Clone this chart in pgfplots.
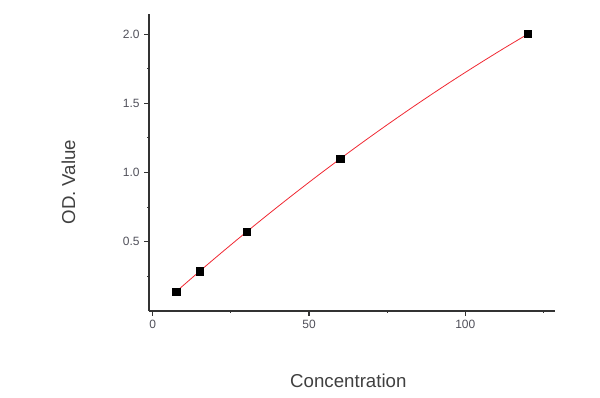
\documentclass[border=0pt]{standalone}
\usepackage{fontspec}
\setmainfont{Liberation Sans}
\usepackage{pgfplots}
\pgfplotsset{compat=1.18}
\definecolor{ticktxt}{RGB}{80,80,90}
\definecolor{labtxt}{RGB}{64,64,64}
\definecolor{fitred}{RGB}{240,40,50}
\begin{document}
\begin{tikzpicture}
\useasboundingbox (0pt,0pt) rectangle (450pt,298.5pt);
\begin{axis}[
  at={(111.75pt,65.25pt)}, anchor=south west,
  scale only axis, width=304.5pt, height=222.75pt,
  xmin=-1.2, xmax=128.7, ymin=0, ymax=2.145,
  axis x line=bottom, axis y line=left,
  axis line style={-, black!80, line width=0.9pt},
  tick align=outside,
  major tick length=3.5pt, minor tick length=1.5pt,
  tick style={black!80, line width=0.8pt},
  xtick={0,50,100}, minor xtick={25,75,125},
  ytick={0.5,1.0,1.5,2.0}, minor ytick={0.25,0.75,1.25,1.75},
  yticklabel style={/pgf/number format/fixed, /pgf/number format/fixed zerofill, /pgf/number format/precision=1},
  /pgf/number format/assume math mode=true,
  ticklabel style={font=\fontsize{9}{10}\selectfont, text=ticktxt},
  label style={font=\fontsize{14}{16}\selectfont, text=labtxt},
  xlabel={Concentration},
  ylabel={OD. Value},
  xlabel style={at={(rel axis cs:0.491,-0.256)}, anchor=base},
  ylabel style={at={(rel axis cs:-0.182,0.434)}, anchor=base},
  clip=false,
]
\addplot[only marks, mark=square*, mark size=2.7pt, mark options={fill=black, draw=black}] coordinates {
(7.5,0.14) (15,0.287) (30,0.571) (60,1.10) (120,2.00)
};
\addplot[smooth, fitred, line width=0.6pt, mark=none] coordinates {
(7.5,0.1400) (15,0.2870) (22.5,0.4307) (30,0.5711) (37.5,0.7083) (45,0.8421)
(52.5,0.9727) (60,1.0999) (67.5,1.2240) (75,1.3447) (82.5,1.4621) (90,1.5763)
(97.5,1.6871) (105,1.7944) (112.5,1.8990) (120,1.9999)
};
\end{axis}
\end{tikzpicture}
\end{document}
